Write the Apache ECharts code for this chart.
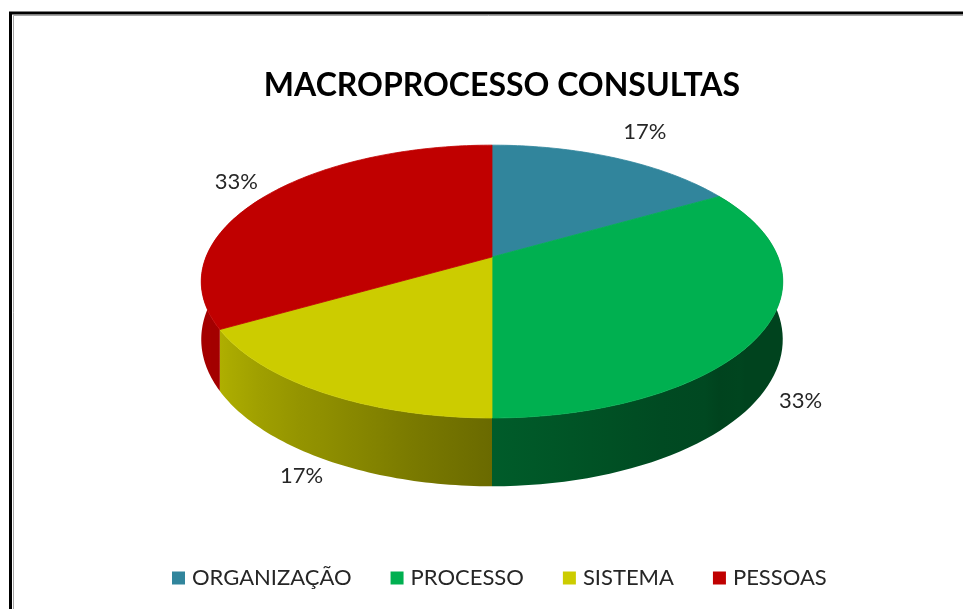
<!DOCTYPE html>
<html>
<head>
<meta charset="utf-8">
<script src="https://cdn.jsdelivr.net/npm/echarts@6/dist/echarts.min.js"></script>
<style>
  html, body { margin: 0; padding: 0; background: #fff; }
  #char { width: 963px; height: 609px; }
</style>
</head>
<body>
<div id="char"></div>
<script>
// dados
const categories = ['ORGANIZAÇÃO', 'PROCESSO', 'SISTEMA', 'PESSOAS']
const values = [1, 2, 1, 2]
const colors = ['#31859C', '#00B050', '#CCCC00', '#C00000']

// geometria da pizza 3D (elipse em perspectiva)
const pie = { cx: 492, cy: 257, rx: 286, ry: 132, k: 0.18, depth: 56 }
const font = 'Lato, "Open Sans", sans-serif'

function proj(deg, dz) {
  const t = deg * Math.PI / 180
  const sx = Math.sin(t), u = -Math.cos(t)
  const s = 1 / (1 - pie.k * u)
  return [pie.cx + pie.rx * sx * s, pie.cy + pie.ry * u * s + dz * s]
}

function shade(hex, f) {
  const n = parseInt(hex.slice(1), 16)
  const r = Math.round(((n >> 16) & 255) * f)
  const g = Math.round(((n >> 8) & 255) * f)
  const b = Math.round((n & 255) * f)
  return 'rgb(' + r + ',' + g + ',' + b + ')'
}

// brilho da parede lateral, luz vindo da esquerda
function light(deg) {
  const pts = [[60, 0.38], [120, 0.38], [150, 0.42], [180, 0.52], [210, 0.7], [240, 0.86], [300, 0.84]]
  for (let i = 1; i < pts.length; i++) {
    if (deg <= pts[i][0]) {
      const t = (deg - pts[i - 1][0]) / (pts[i][0] - pts[i - 1][0])
      return pts[i - 1][1] + t * (pts[i][1] - pts[i - 1][1])
    }
  }
  return pts[pts.length - 1][1]
}

function renderSlice(params, api) {
  const i = params.seriesIndex
  const total = values.reduce((a, b) => a + b, 0)
  let before = 0
  for (let j = 0; j < i; j++) before += values[j]
  const a0 = before / total * 360
  const a1 = (before + api.value(0)) / total * 360
  const base = colors[i]
  const children = []

  // parede lateral
  const w0 = Math.max(a0, 60), w1 = Math.min(a1, 300)
  if (w1 > w0) {
    const top = [], bot = [], stops = []
    const n = 60
    for (let s = 0; s <= n; s++) {
      const a = w0 + (w1 - w0) * s / n
      top.push(proj(a, 0))
      bot.push(proj(a, pie.depth))
    }
    const xs = top.map(p => p[0]).concat(bot.map(p => p[0]))
    const xmin = Math.min(...xs), xmax = Math.max(...xs)
    for (let s = 0; s <= 12; s++) {
      const a = w0 + (w1 - w0) * s / 12
      const x = proj(a, 0)[0]
      stops.push({ offset: Math.min(1, Math.max(0, (x - xmin) / (xmax - xmin || 1))), color: shade(base, light(a)) })
    }
    stops.sort((p, q) => p.offset - q.offset)
    children.push({
      type: 'polygon',
      shape: { points: top.concat(bot.reverse()) },
      style: {
        fill: { type: 'linear', x: xmin, y: 0, x2: xmax, y2: 0, global: true, colorStops: stops },
        stroke: null
      }
    })
  }

  // face superior
  const face = [[pie.cx, pie.cy]]
  const m = Math.max(8, Math.round(a1 - a0))
  for (let s = 0; s <= m; s++) face.push(proj(a0 + (a1 - a0) * s / m, 0))
  children.push({
    type: 'polygon',
    shape: { points: face },
    style: { fill: base, stroke: base, lineWidth: 0.8 }
  })

  // rótulo de porcentagem
  const mid = (a0 + a1) / 2
  const t = mid * Math.PI / 180
  const front = -Math.cos(t) > 0
  const edge = proj(mid, front ? pie.depth : 0)
  children.push({
    type: 'text',
    style: {
      text: Math.round(api.value(0) / total * 100) + '%',
      x: edge[0] + 42 * Math.sin(t) + (front ? 0 : 8),
      y: edge[1] - (front ? 20 : 30) * Math.cos(t),
      fill: '#262626',
      font: '22px ' + font,
      align: 'center',
      verticalAlign: 'middle'
    }
  })
  return { type: 'group', children: children }
}

let myChart = echarts.init(document.getElementById('char'))
let option = {
  animation: false,
  title: {
    text: 'MACROPROCESSO CONSULTAS',
    left: 497,
    top: 65,
    textAlign: 'center',
    textStyle: { fontFamily: font, fontWeight: 'bold', fontSize: 32, color: '#000' }
  },
  legend: {
    left: 172,
    top: 567,
    padding: 0,
    icon: 'rect',
    itemWidth: 13,
    itemHeight: 13,
    itemGap: 39,
    selectedMode: false,
    data: categories,
    textStyle: { fontFamily: font, fontSize: 22, color: '#262626', padding: [0, 0, 0, 2] }
  },
  graphic: [
    { type: 'polyline', shape: { points: [[10.5, 609], [10.5, 13], [963, 13]] }, style: { stroke: '#000', lineWidth: 3, fill: null } },
    { type: 'polyline', shape: { points: [[13.5, 609], [13.5, 15.5], [963, 15.5]] }, style: { stroke: '#a6a6a6', lineWidth: 1, fill: null } }
  ],
  series: []
}

categories.forEach((name, i) => {
  option.series.push({
    name: name,
    type: 'custom',
    coordinateSystem: 'none',
    itemStyle: { color: colors[i] },
    renderItem: renderSlice,
    data: [[values[i]]]
  })
})
myChart.setOption(option)
</script>
</body>
</html>
